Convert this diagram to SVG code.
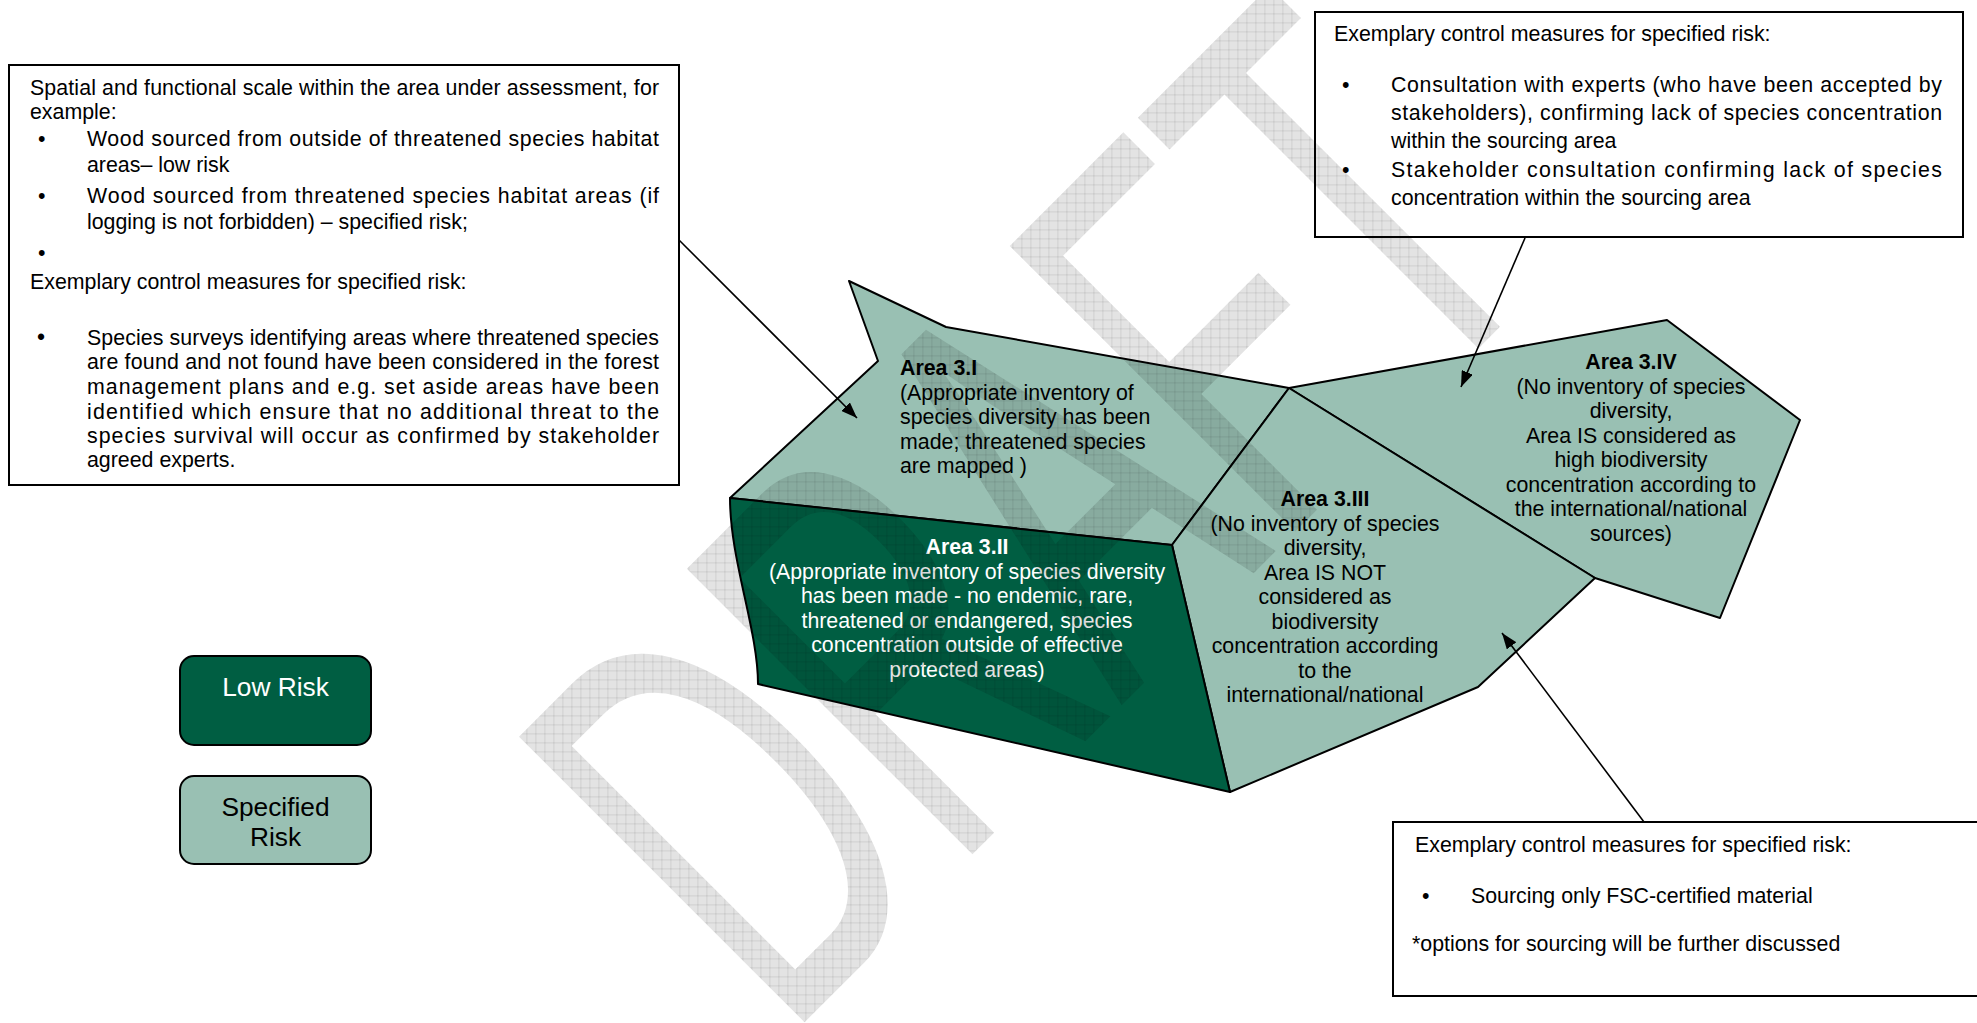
<svg xmlns="http://www.w3.org/2000/svg" width="1977" height="1023" viewBox="0 0 1977 1023">
<style>
text{font-family:"Liberation Sans",Arial,sans-serif;font-size:21.35px;fill:#000}
.b{font-weight:bold}
.w{fill:#fff}
.c{text-anchor:middle}
.box{fill:#fff;stroke:#000;stroke-width:2}
.lt{fill:#99c0b3;stroke:#000;stroke-width:2;stroke-linejoin:round}
.dk{fill:#005e42;stroke:#000;stroke-width:2;stroke-linejoin:round}
.con{stroke:#000;stroke-width:1.6;fill:none;marker-end:url(#ah)}
.lg{font-size:26.3px}
</style>
<defs>
<marker id="ah" viewBox="0 0 16 12" refX="16" refY="6" markerWidth="16" markerHeight="12" markerUnits="userSpaceOnUse" orient="auto">
<path d="M0,0 L16,6 L0,12 z" fill="#000"/>
</marker>
<pattern id="wm" patternUnits="userSpaceOnUse" width="9" height="9" patternTransform="scale(1.7857,1) rotate(45)">
<rect width="9" height="9" fill="#000" fill-opacity="0.11"/>
<path d="M0,0.5H9M0.5,0V9" stroke="#000" stroke-opacity="0.09" stroke-width="1"/>
</pattern>
</defs>
<rect width="1977" height="1023" fill="#fff"/>

<g id="box-left">
<rect class="box" x="9" y="65" width="670" height="420"/>
<text x="30" y="95" textLength="629" lengthAdjust="spacing">Spatial and functional scale within the area under assessment, for</text>
<text x="30" y="119">example:</text>
<text x="38" y="146">•</text>
<text x="87" y="146" textLength="572" lengthAdjust="spacing">Wood sourced from outside of threatened species habitat</text>
<text x="87" y="172">areas– low risk</text>
<text x="38" y="203">•</text>
<text x="87" y="203" textLength="572" lengthAdjust="spacing">Wood sourced from threatened species habitat areas (if</text>
<text x="87" y="229">logging is not forbidden) – specified risk;</text>
<text x="38" y="260">•</text>
<text x="30" y="289">Exemplary control measures for specified risk:</text>
<text x="37" y="345" style="font-size:23px">•</text>
<text x="87" y="345" textLength="572" lengthAdjust="spacing">Species surveys identifying areas where threatened species</text>
<text x="87" y="369" textLength="572" lengthAdjust="spacing">are found and not found have been considered in the forest</text>
<text x="87" y="394" textLength="572" lengthAdjust="spacing">management plans and e.g. set aside areas have been</text>
<text x="87" y="419" textLength="572" lengthAdjust="spacing">identified which ensure that no additional threat to the</text>
<text x="87" y="443" textLength="572" lengthAdjust="spacing">species survival will occur as confirmed by stakeholder</text>
<text x="87" y="467">agreed experts.</text>
</g>

<g id="box-top-right">
<rect class="box" x="1315" y="12" width="648" height="225"/>
<text x="1334" y="41">Exemplary control measures for specified risk:</text>
<text x="1342" y="92">•</text>
<text x="1391" y="92" textLength="551" lengthAdjust="spacing">Consultation with experts (who have been accepted by</text>
<text x="1391" y="120" textLength="551" lengthAdjust="spacing">stakeholders), confirming lack of species concentration</text>
<text x="1391" y="148">within the sourcing area</text>
<text x="1342" y="177">•</text>
<text x="1391" y="177" textLength="551" lengthAdjust="spacing">Stakeholder consultation confirming lack of species</text>
<text x="1391" y="205">concentration within the sourcing area</text>
</g>

<g id="box-bottom-right">
<rect class="box" x="1393" y="822" width="600" height="174"/>
<text x="1415" y="852">Exemplary control measures for specified risk:</text>
<text x="1422" y="903">•</text>
<text x="1471" y="903">Sourcing only FSC-certified material</text>
<text x="1412" y="951">*options for sourcing will be further discussed</text>
</g>

<g id="legend-low">
<rect x="180" y="656" width="191" height="89" rx="14" fill="#005e42" stroke="#000" stroke-width="2"/>
<text class="c w lg" x="275.5" y="696">Low Risk</text>
</g>
<g id="legend-specified">
<rect x="180" y="776" width="191" height="88" rx="14" fill="#99c0b3" stroke="#000" stroke-width="2"/>
<text class="c lg" x="275.5" y="816">Specified</text>
<text class="c lg" x="275.5" y="846">Risk</text>
</g>

<g id="area-3-1">
<polygon class="lt" points="849,281 946,327 1289,388 1172,545 730,498 878,361"/>
<text class="b" x="900" y="375">Area 3.I</text>
<text x="900" y="399.5">(Appropriate inventory of</text>
<text x="900" y="424">species diversity has been</text>
<text x="900" y="448.5">made; threatened species</text>
<text x="900" y="473">are mapped )</text>
</g>

<g id="area-3-4">
<polygon class="lt" points="1289,388 1667,320 1800,420 1720,618 1595,578"/>
<text class="b c" x="1631" y="369">Area 3.IV</text>
<text class="c" x="1631" y="393.5">(No inventory of species</text>
<text class="c" x="1631" y="418">diversity,</text>
<text class="c" x="1631" y="442.5">Area IS considered as</text>
<text class="c" x="1631" y="467">high biodiversity</text>
<text class="c" x="1631" y="491.5">concentration according to</text>
<text class="c" x="1631" y="516">the international/national</text>
<text class="c" x="1631" y="540.5">sources)</text>
</g>

<g id="area-3-3">
<polygon class="lt" points="1289,388 1595,578 1478,687 1230,792 1172,545"/>
<text class="b c" x="1325" y="506">Area 3.III</text>
<text class="c" x="1325" y="530.5">(No inventory of species</text>
<text class="c" x="1325" y="555">diversity,</text>
<text class="c" x="1325" y="579.5">Area IS NOT</text>
<text class="c" x="1325" y="604">considered as</text>
<text class="c" x="1325" y="628.5">biodiversity</text>
<text class="c" x="1325" y="653">concentration according</text>
<text class="c" x="1325" y="677.5">to the</text>
<text class="c" x="1325" y="702">international/national</text>
</g>

<g id="area-3-2">
<path class="dk" d="M730,498 L1172,545 L1230,792 L758,684 C758,630 730,560 730,498 Z"/>
<text class="b c w" x="967" y="554">Area 3.II</text>
<text class="c w" x="967" y="578.5">(Appropriate inventory of species diversity</text>
<text class="c w" x="967" y="603">has been made - no endemic, rare,</text>
<text class="c w" x="967" y="627.5">threatened or endangered, species</text>
<text class="c w" x="967" y="652">concentration outside of effective</text>
<text class="c w" x="967" y="676.5">protected areas)</text>
</g>

<g id="connectors">
<line class="con" x1="679" y1="240" x2="857" y2="418"/>
<line class="con" x1="1525" y1="238" x2="1461" y2="387"/>
<line class="con" x1="1644" y1="822" x2="1502" y2="633"/>
</g>

<g id="watermark" pointer-events="none">
<text x="-323" y="0" transform="translate(913.4,913.4) rotate(-45) scale(0.56,1)" style="font-size:587px;fill:url(#wm)">DRAFT</text>
</g>
</svg>
